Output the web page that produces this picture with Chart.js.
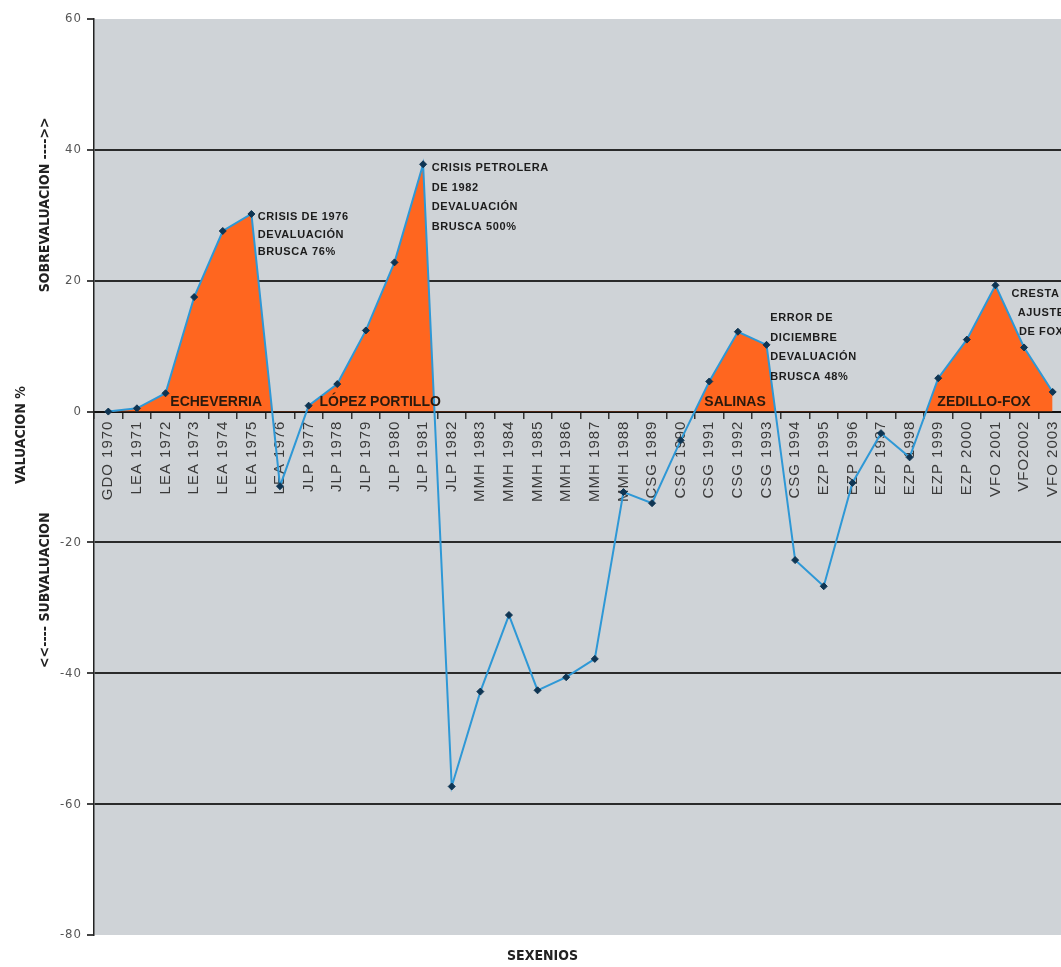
<!DOCTYPE html>
<html>
<head>
<meta charset="utf-8">
<script src="https://cdn.jsdelivr.net/npm/chart.js@4"></script>
<style>
html,body{margin:0;padding:0;background:#fff;overflow:hidden;}
</style>
</head>
<body>
<canvas id="val" width="1075" height="967"></canvas>
<script>
// sexenios (presidente + año)
const sexenios = ['GDO 1970','LEA 1971','LEA 1972','LEA 1973','LEA 1974','LEA 1975','LEA 1976',
  'JLP 1977','JLP 1978','JLP 1979','JLP 1980','JLP 1981','JLP 1982',
  'MMH 1983','MMH 1984','MMH 1985','MMH 1986','MMH 1987','MMH 1988',
  'CSG 1989','CSG 1990','CSG 1991','CSG 1992','CSG 1993','CSG 1994',
  'EZP 1995','EZP 1996','EZP 1997','EZP 1998','EZP 1999','EZP 2000',
  'VFO 2001','VFO2002','VFO 2003'];
// valuacion % del peso
const valuacion = [0, 0.5, 2.8, 17.5, 27.6, 30.2, -11.4,
  0.9, 4.2, 12.4, 22.8, 37.8, -57.3,
  -42.8, -31.1, -42.6, -40.6, -37.8, -12.3,
  -14, -4.4, 4.6, 12.2, 10.2, -22.7,
  -26.7, -10.9, -3.3, -7, 5.1, 11,
  19.3, 9.8, 3];
const yTicks = [-80, -60, -40, -20, 0, 20, 40, 60];

const periodos = [
  {txt: 'ECHEVERRIA', at: 3.77, v: 1.5},
  {txt: 'LÓPEZ PORTILLO', at: 9.5, v: 1.5},
  {txt: 'SALINAS', at: 21.9, v: 1.5},
  {txt: 'ZEDILLO-FOX', at: 30.6, v: 1.5}
];
const notas = [
  {lines: ['CRISIS DE 1976', 'DEVALUACIÓN', 'BRUSCA 76%'], at: 5.22, v: 29.7, align: 'left', lh: 17.5},
  {lines: ['CRISIS PETROLERA', 'DE 1982', 'DEVALUACIÓN', 'BRUSCA 500%'], at: 11.3, v: 37.2, align: 'left', lh: 19.5},
  {lines: ['ERROR DE', 'DICIEMBRE', 'DEVALUACIÓN', 'BRUSCA 48%'], at: 23.13, v: 14.3, align: 'left', lh: 19.5},
  {lines: ['CRESTA Y', 'AJUSTE', 'DE FOX'], at: 32.6, v: 17.9, align: 'center', lh: 19}
];

const textos = {
  id: 'textos',
  beforeDraw(chart) {
    const {ctx, chartArea: a} = chart;
    ctx.save();
    ctx.fillStyle = '#cfd3d7';
    ctx.fillRect(a.left, a.top, a.right - a.left, a.bottom - a.top);
    ctx.restore();
    // etiquetas del eje algo espaciadas
    ctx.letterSpacing = '1px';
  },
  beforeDatasetsDraw(chart) {
    chart.ctx.letterSpacing = '0px';
  },
  afterDatasetsDraw(chart) {
    const {ctx, chartArea: a} = chart;
    const x = chart.scales.x, y = chart.scales.y;
    ctx.save();
    ctx.textBaseline = 'middle';
    ctx.font = 'bold 14px "Liberation Sans", Arial, sans-serif';
    ctx.fillStyle = '#2a1a0e';
    ctx.textAlign = 'center';
    periodos.forEach(p => {
      ctx.fillText(p.txt, x.getPixelForValue(p.at), y.getPixelForValue(p.v));
    });
    ctx.font = 'bold 11px "Liberation Sans", Arial, sans-serif';
    ctx.letterSpacing = '0.6px';
    ctx.fillStyle = '#1c1c1c';
    notas.forEach(n => {
      ctx.textAlign = n.align;
      const px = x.getPixelForValue(n.at);
      const py = y.getPixelForValue(n.v);
      n.lines.forEach((l, k) => ctx.fillText(l, px, py + k * n.lh));
    });
    // titulos de ejes
    ctx.letterSpacing = '0px';
    ctx.fillStyle = '#222';
    ctx.font = 'bold 14px "Liberation Sans Narrow", "DejaVu Sans Condensed", sans-serif';
    ctx.textAlign = 'center';
    ctx.fillText('SEXENIOS', (a.left + a.right) / 2 - 38, a.bottom + 21);
    const rot = (t, px, v) => {
      ctx.save();
      ctx.translate(px, y.getPixelForValue(v));
      ctx.rotate(-Math.PI / 2);
      ctx.fillText(t, 0, 0);
      ctx.restore();
    };
    rot('VALUACION %', a.left - 73, -3.6);
    rot('SOBREVALUACION ---->>', a.left - 49, 31.6);
    rot('<<---- SUBVALUACION', a.left - 49, -27.3);
    ctx.restore();
  }
};

const ctx = document.getElementById('val').getContext('2d');
new Chart(ctx, {
  type: 'line',
  data: {
    labels: sexenios,
    datasets: [{
      label: 'Valuacion %',
      data: valuacion,
      borderColor: '#2e98d6',
      borderWidth: 2,
      tension: 0,
      pointStyle: 'rectRot',
      pointRadius: 3.5,
      pointBackgroundColor: '#0f3553',
      pointBorderColor: '#0f3553',
      pointBorderWidth: 1,
      fill: {target: 'origin', above: '#ff661f', below: 'rgba(0,0,0,0)'}
    }]
  },
  options: {
    responsive: false,
    animation: false,
    devicePixelRatio: 1,
    layout: {padding: {left: 0, top: 19, right: 8, bottom: 32}},
    plugins: {
      legend: {display: false},
      tooltip: {enabled: false}
    },
    scales: {
      x: {
        type: 'category',
        position: {y: 0},
        offset: true,
        grid: {offset: true, drawOnChartArea: false, tickLength: 6, tickColor: '#333', lineWidth: 1.5},
        border: {color: '#111', width: 2},
        ticks: {
          autoSkip: false, minRotation: 90, maxRotation: 90,
          font: {family: '"Liberation Sans", Arial, sans-serif', size: 15},
          color: '#3a3a3a', padding: 3
        }
      },
      y: {
        min: -80, max: 60,
        afterBuildTicks(s) { s.ticks = yTicks.map(v => ({value: v})); },
        afterFit(s) { s.width = 94; },
        grid: {
          color: c => (c.tick && [40, 20, -20, -40, -60].includes(c.tick.value)) ? '#2a2a2a' : 'rgba(0,0,0,0)',
          lineWidth: 2,
          tickColor: '#444',
          tickLength: 7
        },
        border: {color: '#222', width: 1.5},
        ticks: {
          font: {family: '"Liberation Sans Narrow", "DejaVu Sans Condensed", sans-serif', size: 13},
          color: '#555', padding: 5
        }
      }
    }
  },
  plugins: [textos]
});
</script>
</body>
</html>
